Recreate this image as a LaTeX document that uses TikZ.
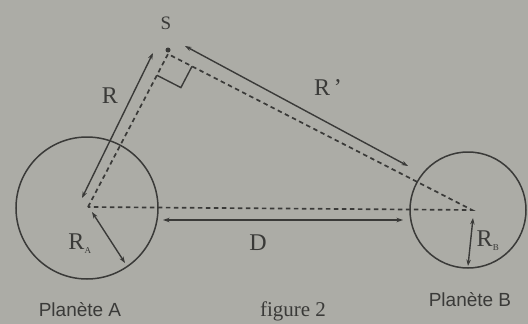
\documentclass[tikz,border=0pt]{standalone}
\usepackage{fontspec}
\setmainfont{Liberation Serif}
\newfontfamily\labsans{Liberation Sans}
\usetikzlibrary{arrows.meta,calc}
\definecolor{bgc}{RGB}{172,172,166}
\definecolor{ink}{RGB}{58,58,56}
\begin{document}
\begin{tikzpicture}[x=1pt,y=-1pt,
  planet/.style={circle,draw=ink,line width=1.5pt,inner sep=0pt},
  dimarrow/.style={draw=ink,line width=1.4pt,{Stealth[length=6.5pt,width=4.5pt]}-{Stealth[length=6.5pt,width=4.5pt]}},
  dashline/.style={draw=ink,line width=1.7pt,dash pattern=on 4.5pt off 3.5pt},
  lab/.style={text=ink,inner sep=0pt,font=\fontsize{24}{26}\selectfont},
  plab/.style={text=ink,inner sep=0pt,font=\labsans\fontsize{19}{21}\selectfont}]
\fill[bgc] (0,0) rectangle (528,324);
\useasboundingbox (0,0) rectangle (528,324);
% planets
\node[planet,minimum size=142pt] (pa) at (87,208) {};
\node[planet,minimum size=116pt] (pb) at (468,210) {};
\coordinate (ca) at (88,207);
\coordinate (cb) at (472,210);
\coordinate (s) at (168,54);
\node[circle,fill=ink,inner sep=0pt,minimum size=5pt] (sd) at (168,50) {};
% dashed construction lines
\draw[dashline] (ca) -- (s) -- (cb) -- (ca);
% right angle mark
\coordinate (m1) at ($(s)!24pt!(ca)$);
\coordinate (m2) at ($(s)!27pt!(cb)$);
\coordinate (mc) at ($(m1)+(m2)-(s)$);
\draw[ink,line width=1.4pt] (m1) -- (mc) -- (m2);
% dimension arrows
\coordinate (r1) at (82,198); \coordinate (r2) at (153,53);
\coordinate (rp1) at (185,46); \coordinate (rp2) at (408,166);
\coordinate (d1) at (163,220); \coordinate (d2) at (403,220);
\coordinate (ra1) at (92,212); \coordinate (ra2) at (125,263);
\coordinate (rb1) at (473,218); \coordinate (rb2) at (468,266);
\draw[dimarrow] (r1) -- (r2);
\draw[dimarrow] (rp1) -- (rp2);
\draw[dimarrow] (d1) -- (d2);
\draw[dimarrow] (ra1) -- (ra2);
\draw[dimarrow] (rb1) -- (rb2);
% labels
\node[lab,font=\fontsize{19}{21}\selectfont] (ls) at (166,23) {S};
\node[lab] (lr) at (110,96) {R};
\node[lab] (lrp) at (328,88) {R\,'};
\node[lab] (ld) at (258,243) {D};
\node[lab] (lra) at (80,244) {R\textsubscript{\fontsize{9}{9}\selectfont A}};
\node[lab] (lrb) at (488,241) {R\textsubscript{\fontsize{9}{9}\selectfont B}};
\node[plab] (lpa) at (80,310) {Planète A};
\node[plab] (lpb) at (470,300) {Planète B};
\node[lab,font=\fontsize{21}{23}\selectfont] (lfig) at (293,311) {figure 2};
\end{tikzpicture}
\end{document}
